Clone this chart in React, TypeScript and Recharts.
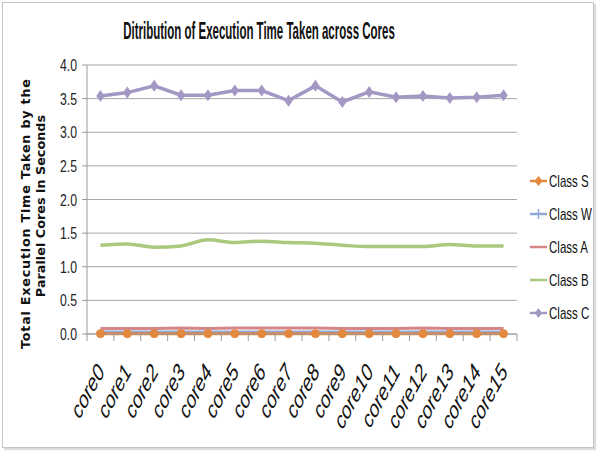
import { LineChart, Line, XAxis, YAxis, CartesianGrid, Legend } from 'recharts'

const cores = [
  'core0', 'core1', 'core2', 'core3', 'core4', 'core5', 'core6', 'core7',
  'core8', 'core9', 'core10', 'core11', 'core12', 'core13', 'core14', 'core15',
]
const classS = [0.005, 0.005, 0.005, 0.005, 0.005, 0.005, 0.005, 0.005, 0.005, 0.005, 0.005, 0.005, 0.005, 0.005, 0.005, 0.005]
const classW = [0.03, 0.03, 0.03, 0.03, 0.03, 0.03, 0.03, 0.03, 0.03, 0.03, 0.03, 0.03, 0.03, 0.03, 0.03, 0.03]
const classA = [0.08, 0.08, 0.08, 0.09, 0.08, 0.09, 0.09, 0.09, 0.09, 0.08, 0.08, 0.08, 0.09, 0.08, 0.08, 0.08]
const classB = [1.32, 1.34, 1.29, 1.31, 1.4, 1.36, 1.38, 1.36, 1.35, 1.32, 1.3, 1.3, 1.3, 1.33, 1.31, 1.31]
const classC = [3.54, 3.59, 3.69, 3.55, 3.55, 3.62, 3.62, 3.47, 3.69, 3.45, 3.6, 3.52, 3.54, 3.51, 3.52, 3.55]
const yTicks = [0, 0.5, 1, 1.5, 2, 2.5, 3, 3.5, 4]

const series = [
  { key: 'S', name: 'Class S', color: '#E2883F', marker: 'circle' },
  { key: 'W', name: 'Class W', color: '#8FA9D8', marker: 'plus' },
  { key: 'A', name: 'Class A', color: '#D58686', marker: 'none' },
  { key: 'B', name: 'Class B', color: '#AAC87E', marker: 'none' },
  { key: 'C', name: 'Class C', color: '#A397C4', marker: 'diamond' },
]

const data = cores.map((c, i) => ({
  core: c,
  S: classS[i],
  W: classW[i],
  A: classA[i],
  B: classB[i],
  C: classC[i],
}))

const W = 598
const H = 458
const PLOT_LEFT = 87
const PLOT_RIGHT = 517
const BAND = (PLOT_RIGHT - PLOT_LEFT) / cores.length
const SX = 0.72 // narrow glyphs, squeezed horizontally
const sans = '"Liberation Sans", Arial, sans-serif'

function CoreTick(props: any) {
  const { x, y, payload, index } = props
  const left = x - BAND / 2
  const tx = x + 5
  const ty = y + 38
  return (
    <g>
      <line x1={left} y1={y} x2={left} y2={y + 7} stroke="#9a9a9a" />
      {index === cores.length - 1 && (
        <line x1={x + BAND / 2} y1={y} x2={x + BAND / 2} y2={y + 7} stroke="#9a9a9a" />
      )}
      <text
        transform={`translate(${tx} ${ty}) scale(${SX} 1) rotate(-53)`}
        textAnchor="end"
        fontFamily={sans}
        fontStyle="italic"
        fontSize={24}
        fill="#111"
      >
        {payload.value}
      </text>
    </g>
  )
}

function ValueTick(props: any) {
  const { x, y, payload } = props
  return (
    <text
      transform={`translate(${x} ${y + 6}) scale(${SX} 1)`}
      textAnchor="end"
      fontFamily={sans}
      fontSize={17}
      fill="#222"
    >
      {Number(payload.value).toFixed(1)}
    </text>
  )
}

function Diamond({ cx, cy, color, size = 5 }: any) {
  return (
    <path
      d={`M${cx} ${cy - size} L${cx + size * 0.7} ${cy} L${cx} ${cy + size} L${cx - size * 0.7} ${cy} Z`}
      fill={color}
    />
  )
}

function LegendBox() {
  return (
    <svg width={70} height={170}>
      {series.map((s, i) => {
        const cy = 17 + i * 33
        return (
          <g key={s.key}>
            <line x1={3} y1={cy} x2={20} y2={cy} stroke={s.color} strokeWidth={2.5} />
            {s.marker === 'circle' && <path d={`M11.5 ${cy - 5} L15.5 ${cy} L11.5 ${cy + 5} L7.5 ${cy} Z`} fill={s.color} />}
            {s.marker === 'diamond' && <path d={`M11.5 ${cy - 5} L15 ${cy} L11.5 ${cy + 5} L8 ${cy} Z`} fill={s.color} />}
            {s.marker === 'plus' && (
              <line x1={11.5} y1={cy - 5} x2={11.5} y2={cy + 5} stroke={s.color} strokeWidth={1.5} />
            )}
            <text
              transform={`translate(22 ${cy + 5.5}) scale(${SX} 1)`}
              fontFamily={sans}
              fontSize={16}
              fill="#111"
            >
              {s.name}
            </text>
          </g>
        )
      })}
    </svg>
  )
}

function AxisTitle() {
  const font = 'Verdana, "DejaVu Sans", sans-serif'
  return (
    <g fontFamily={font} fontWeight="bold" fontSize={12.8} fill="#111" textAnchor="middle">
      <text x={30} y={214} transform="rotate(-90 30 214)" textLength={270} lengthAdjust="spacing">
        Total Execution Time Taken by the
      </text>
      <text x={45} y={206} transform="rotate(-90 45 206)">Parallel Cores in Seconds</text>
    </g>
  )
}

export default function App() {
  return (
    <div style={{ position: 'absolute', left: 0, top: 0, width: W, height: H, background: '#fff' }}>
      <div
        style={{
          position: 'absolute',
          left: 2,
          top: 2,
          width: 590,
          height: 444,
          border: '1px solid #c4c4c4',
          boxShadow: '2px 2px 1px #dcdcdc',
        }}
      />
      <svg width={W} height={60} style={{ position: 'absolute', left: 0, top: 0 }}>
        <text
          transform="translate(259 39) scale(0.5 1)"
          textAnchor="middle"
          fontFamily={sans}
          fontWeight="bold"
          fontSize={23}
          fill="#111"
        >
          Ditribution of Execution Time Taken across Cores
        </text>
      </svg>
      <div style={{ position: 'absolute', left: 0, top: 0 }}>
        <LineChart width={W} height={H} data={data} margin={{ top: 65, right: W - PLOT_RIGHT, bottom: 0, left: 0 }}>
          <CartesianGrid vertical={false} stroke="#a6a6a6" />
          <XAxis
            dataKey="core"
            height={124}
            stroke="#9a9a9a"
            padding={{ left: BAND / 2, right: BAND / 2 }}
            tickLine={false}
            tickSize={0}
            tickMargin={0}
            interval={0}
            tick={<CoreTick />}
          />
          <YAxis
            width={PLOT_LEFT}
            domain={[0, 4]}
            ticks={yTicks}
            stroke="#9a9a9a"
            tickSize={5}
            tickMargin={5}
            tick={<ValueTick />}
            label={{ content: () => <AxisTitle /> }}
          />
          <Line
            dataKey="A"
            name="Class A"
            stroke={series[2].color}
            strokeWidth={3}
            dot={false}
            isAnimationActive={false}
          />
          <Line
            dataKey="W"
            name="Class W"
            stroke={series[1].color}
            strokeWidth={3}
            dot={false}
            isAnimationActive={false}
          />
          <Line
            dataKey="S"
            name="Class S"
            stroke={series[0].color}
            strokeWidth={3}
            dot={{ r: 4, fill: series[0].color, stroke: series[0].color, strokeWidth: 1 }}
            isAnimationActive={false}
          />
          <Line
            type="monotone"
            dataKey="B"
            name="Class B"
            stroke={series[3].color}
            strokeWidth={3.5}
            dot={false}
            isAnimationActive={false}
          />
          <Line
            dataKey="C"
            name="Class C"
            stroke={series[4].color}
            strokeWidth={3.5}
            dot={(p: any) => <Diamond key={p.index} cx={p.cx} cy={p.cy} color={series[4].color} size={6} />}
            isAnimationActive={false}
          />
          <Legend
            layout="horizontal"
            verticalAlign="middle"
            content={() => <LegendBox />}
            wrapperStyle={{ position: 'absolute', left: 527, top: 164, width: 70 }}
          />
        </LineChart>
      </div>
    </div>
  )
}
